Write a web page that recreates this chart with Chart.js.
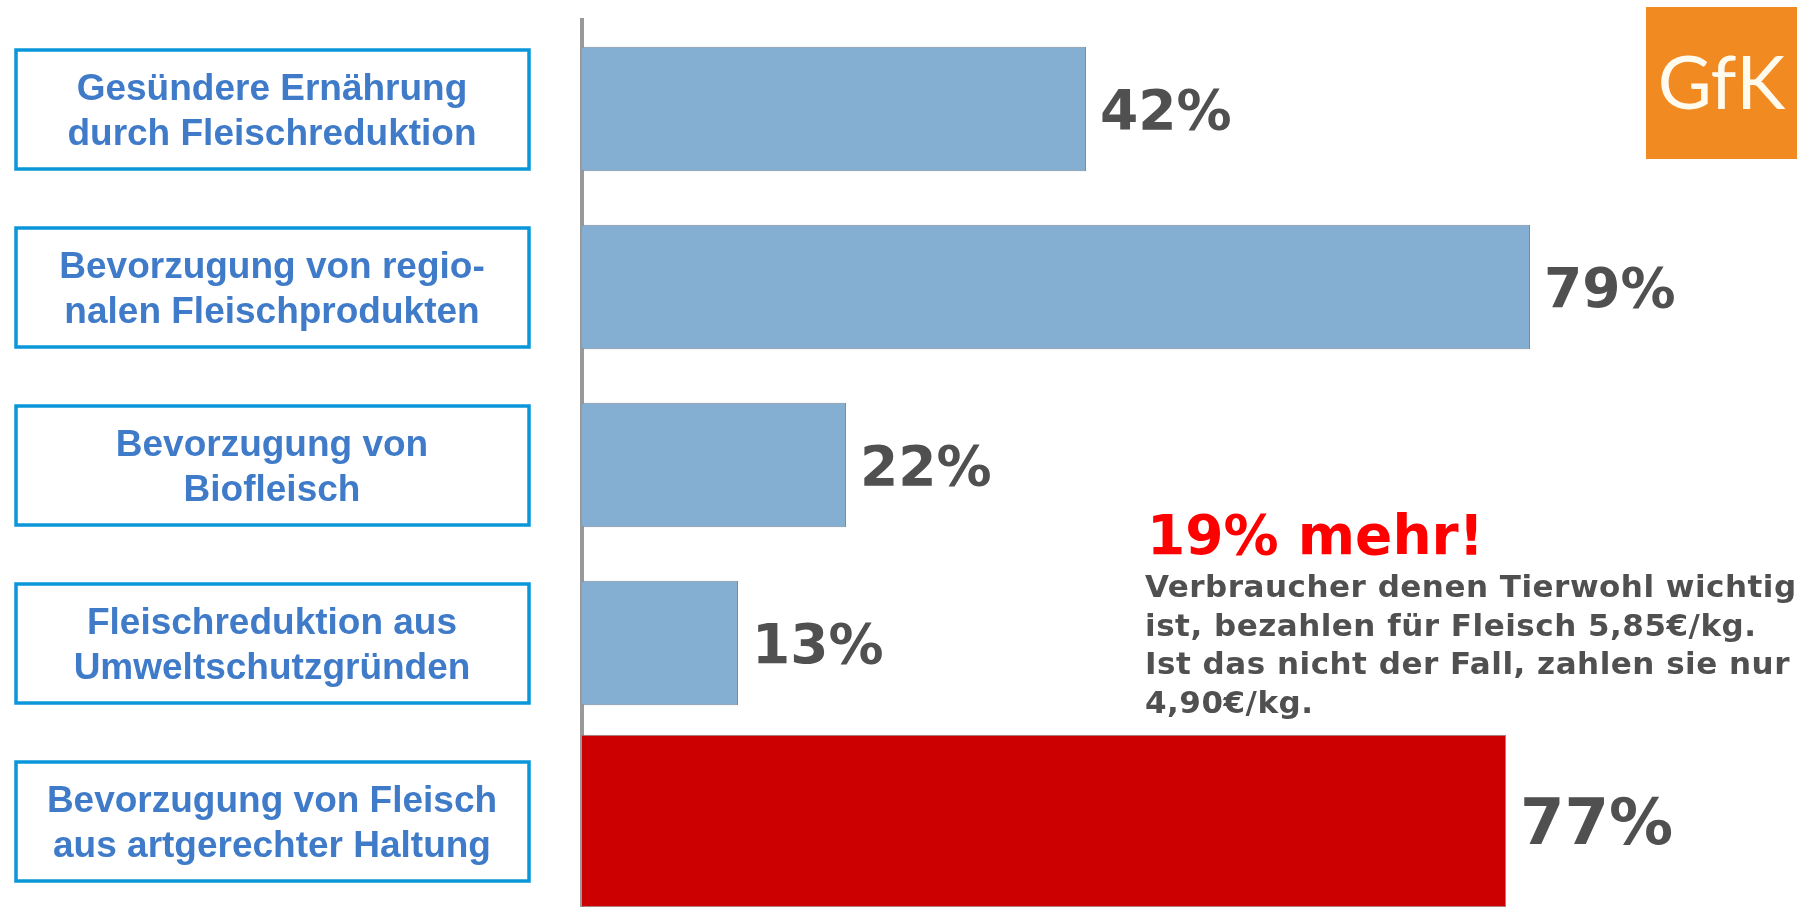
<!DOCTYPE html>
<html>
<head>
<meta charset="utf-8">
<script src="https://cdn.jsdelivr.net/npm/chart.js@4.4.1/dist/chart.umd.min.js"></script>
<style>
  html, body { margin: 0; padding: 0; background: #fff; overflow: hidden; }
  #wrap { position: relative; width: 1816px; height: 912px; }
  #meatChart { position: absolute; left: 0; top: 0; }
  #note-head {
    position: absolute; left: 1147px; top: 508px;
    font: bold 55px "DejaVu Sans", sans-serif; line-height: 55px;
    color: #ff0000; white-space: nowrap;
  }
  #note-body {
    position: absolute; left: 1145px; top: 567px;
    font: bold 31px "DejaVu Sans", sans-serif; line-height: 38.7px;
    letter-spacing: 0.5px;
    color: #505050; white-space: nowrap;
  }
  #logo {
    position: absolute; left: 1646px; top: 7px; width: 151px; height: 152px;
    background: #f18a21; color: #fffbef;
    display: flex; align-items: center; justify-content: center;
    font: 74px Lato, "Open Sans", sans-serif; padding-bottom: 6px; box-sizing: border-box;
  }
</style>
</head>
<body>
<div id="wrap">
  <canvas id="meatChart" width="1816" height="912"></canvas>
  <div id="note-head">19% mehr!</div>
  <div id="note-body">Verbraucher denen Tierwohl wichtig<br>ist, bezahlen für Fleisch 5,85€/kg.<br>Ist das nicht der Fall, zahlen sie nur<br>4,90€/kg.</div>
  <div id="logo">GfK</div>
</div>
<script>
// categories (two lines each, split like in the slide)
const categories = [
    ['Gesündere Ernährung', 'durch Fleischreduktion'],
    ['Bevorzugung von regio-', 'nalen Fleischprodukten'],
    ['Bevorzugung von', 'Biofleisch'],
    ['Fleischreduktion aus', 'Umweltschutzgründen'],
    ['Bevorzugung von Fleisch', 'aus artgerechter Haltung']
];

// share of consumers in %
const percentValues = [42, 79, 22, 13, 77];

// which bar is the red one
const highlightIndex = 4;

const blueBars = percentValues.map((v, i) => i === highlightIndex ? null : v);
const redBars = percentValues.map((v, i) => i === highlightIndex ? v : null);

// draws the framed category labels and the percent labels
const labelPlugin = {
    id: 'labelPlugin',
    afterDraw(chart) {
        const ctx = chart.ctx;
        const yScale = chart.scales.y;

        // category boxes on the left
        categories.forEach((lines, i) => {
            const cy = yScale.getPixelForValue(i);
            ctx.save();
            ctx.strokeStyle = '#0a97d9';
            ctx.lineWidth = 3.5;
            ctx.strokeRect(16, cy - 59, 513, 119);
            ctx.fillStyle = '#3f7bc8';
            ctx.font = 'bold 37px "Liberation Sans", Arial, sans-serif';
            ctx.textAlign = 'center';
            ctx.textBaseline = 'alphabetic';
            lines.forEach((line, k) => {
                ctx.fillText(line, 272, cy - 9.5 + k * 45);
            });
            ctx.restore();
        });

        // percent labels
        chart.data.datasets.forEach((ds, di) => {
            const meta = chart.getDatasetMeta(di);
            meta.data.forEach((bar, i) => {
                if (ds.data[i] === null) return;
                const size = i === highlightIndex ? 64 : 55;
                ctx.save();
                ctx.fillStyle = '#505050';
                ctx.font = 'bold ' + size + 'px "DejaVu Sans", Verdana, sans-serif';
                ctx.textAlign = 'left';
                ctx.textBaseline = 'alphabetic';
                ctx.fillText(percentValues[i] + '%', bar.x + 14, bar.y + size * 0.729 / 2);
                ctx.restore();
            });
        });
    }
};

const ctx = document.getElementById('meatChart').getContext('2d');

new Chart(ctx, {
    type: 'bar',
    data: {
        labels: categories,
        datasets: [
            {
                label: 'Zustimmung',
                data: blueBars,
                backgroundColor: '#84aed2',
                borderColor: '#7d8b99',
                borderWidth: 1,
                categoryPercentage: 1,
                barPercentage: 0.70
            },
            {
                label: 'Tierwohl',
                data: redBars,
                backgroundColor: '#cc0000',
                borderColor: '#8c8c8c',
                borderWidth: 1,
                categoryPercentage: 1,
                barPercentage: 0.97
            }
        ]
    },
    options: {
        indexAxis: 'y',
        responsive: false,
        animation: false,
        grouped: false,
        layout: {
            padding: { top: 20, bottom: 2, left: 0, right: 34 }
        },
        scales: {
            x: {
                display: false,
                min: 0,
                max: 100
            },
            y: {
                grid: { display: false },
                ticks: { display: false },
                border: { display: true, color: '#999999', width: 4 },
                afterFit: (scale) => { scale.width = 582; }
            }
        },
        plugins: {
            legend: { display: false },
            tooltip: { enabled: false }
        }
    },
    plugins: [labelPlugin]
});
</script>
</body>
</html>
